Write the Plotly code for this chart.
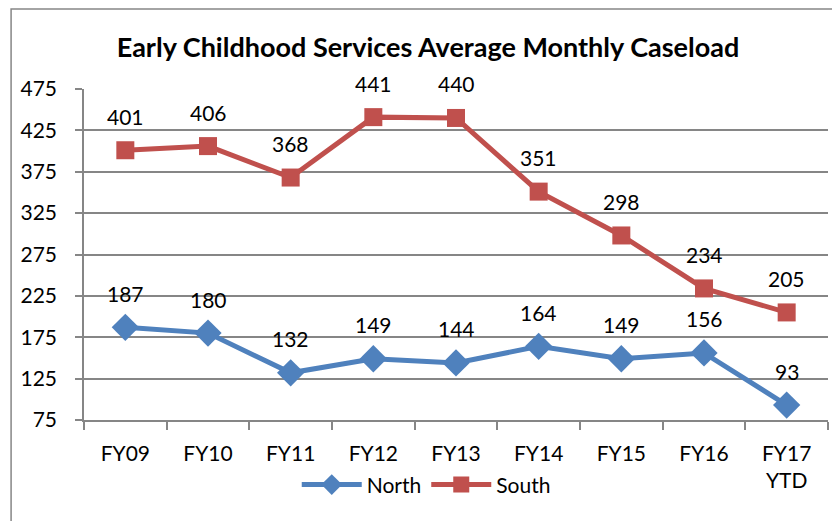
import plotly.graph_objects as go

# data
years = ["FY09", "FY10", "FY11", "FY12", "FY13", "FY14", "FY15", "FY16", "FY17<br>YTD"]
north = [187, 180, 132, 149, 144, 164, 149, 156, 93]
south = [401, 406, 368, 441, 440, 351, 298, 234, 205]

FONT = "Lato, Calibri, Carlito, sans-serif"
BLUE = "#4F81BD"
RED = "#C0504D"
GRID = "#868686"

fig = go.Figure()
fig.add_trace(go.Scatter(
    x=years, y=north, name="North", mode="lines+markers",
    line=dict(color=BLUE, width=5),
    marker=dict(symbol="diamond", size=21, color=BLUE)
))
fig.add_trace(go.Scatter(
    x=years, y=south, name="South", mode="lines+markers",
    line=dict(color=RED, width=5),
    marker=dict(symbol="square", size=18, color=RED)
))

# data labels above the points
for series in (north, south):
    for x, y in zip(years, series):
        fig.add_annotation(x=x, y=y, text=str(y), showarrow=False, yshift=34,
                           font=dict(size=21, color="#000000", family=FONT))

# outer chart border
fig.add_shape(type="rect", xref="paper", yref="paper",
              x0=-0.098, x1=1.0134, y0=-0.34, y1=1.242,
              line=dict(color=GRID, width=1.5))

fig.update_layout(
    width=840, height=521,
    margin=dict(l=76, r=20, t=81, b=109),
    paper_bgcolor="white", plot_bgcolor="white",
    font=dict(family=FONT, size=21, color="#000000"),
    title=dict(text="<b>Early Childhood Services Average Monthly Caseload</b>",
               x=0.5, xanchor="center", y=0.925, yanchor="middle",
               font=dict(size=27, family=FONT, color="#000000")),
    showlegend=True,
    legend=dict(orientation="h", x=0.46, xanchor="center", y=-0.196, yanchor="middle",
                font=dict(size=21, family=FONT), itemwidth=60, tracegroupgap=0),
)
fig.update_xaxes(
    type="category", showgrid=False, showline=True, linecolor=GRID, linewidth=1.5,
    ticks="outside", tickson="boundaries", ticklen=8, tickcolor=GRID, tickwidth=1.5,
    tickfont=dict(size=21, family=FONT), range=[-0.5, 8.5], ticklabelstandoff=14
)
fig.update_yaxes(
    range=[75, 475], tickvals=[75, 125, 175, 225, 275, 325, 375, 425, 475],
    showgrid=True, gridcolor=GRID, gridwidth=1.5,
    showline=True, linecolor=GRID, linewidth=1.5,
    ticks="outside", ticklen=7, tickcolor=GRID, tickwidth=1.5,
    tickfont=dict(size=21, family=FONT), zeroline=False, ticklabelstandoff=14
)

fig.write_html("out.html")
